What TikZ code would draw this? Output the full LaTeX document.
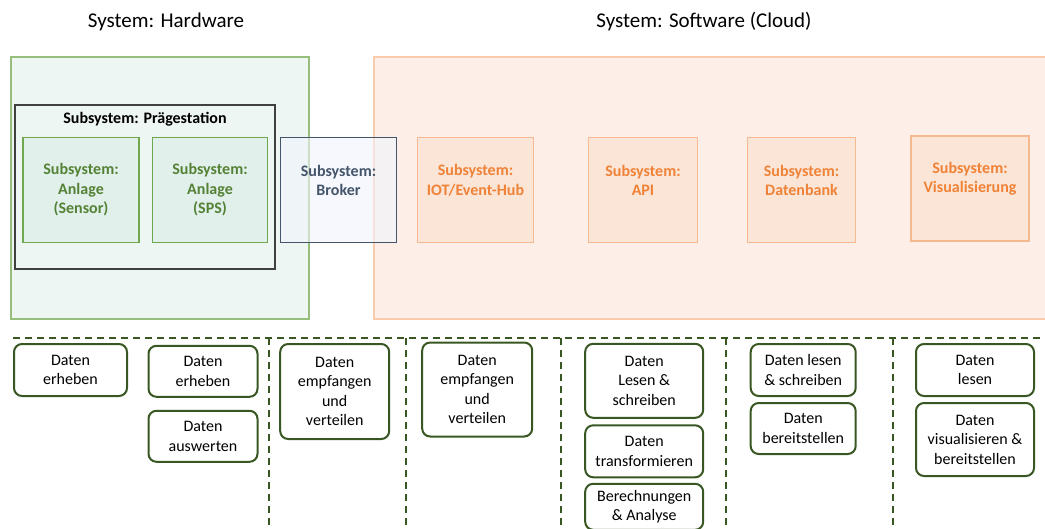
\documentclass[tikz,border=0pt]{standalone}
\usepackage{fontspec}
\setmainfont{Carlito}
\usetikzlibrary{positioning,calc}

\definecolor{hwfill}{RGB}{238,246,243}
\definecolor{hwline}{RGB}{150,190,125}
\definecolor{anlfill}{RGB}{226,240,236}
\definecolor{anlline}{RGB}{112,168,80}
\definecolor{anltext}{RGB}{84,130,53}
\definecolor{swfill}{RGB}{253,239,231}
\definecolor{swline}{RGB}{248,203,173}
\definecolor{cldfill}{RGB}{251,229,214}
\definecolor{cldline}{RGB}{245,185,145}
\definecolor{cldtext}{RGB}{240,130,55}
\definecolor{brkfill}{RGB}{240,244,252}
\definecolor{brkline}{RGB}{68,84,106}
\definecolor{taskline}{RGB}{56,87,35}

\newcommand{\sysfont}{\fontsize{21}{25}\selectfont}
\newcommand{\tskfont}{\fontsize{16}{19.5}\selectfont}

\tikzstyle{title} = [anchor=base, inner sep=0pt, font=\sysfont]
\tikzstyle{system} = [draw, line width=1.5pt, inner sep=0pt]
\tikzstyle{subsys} = [draw, line width=1.5pt, inner sep=0pt, minimum height=105pt]
\tikzstyle{subtext} = [align=center, inner sep=0pt, font=\tskfont\bfseries]
\tikzstyle{task} = [draw=taskline, line width=2pt, rounded corners=8pt, fill=white,
                    align=center, inner sep=0pt, font=\tskfont]
\tikzstyle{lane} = [draw=taskline, line width=2pt, dash pattern=on 7pt off 5pt]

\begin{document}
\begin{tikzpicture}[x=1pt, y=-1pt]
 \useasboundingbox (0,0) rectangle (1045,528);

 \node[title] (hwtitle) at (166,27) {System: Hardware};
 \node[title] (swtitle) at (704,27) {System: Software (Cloud)};

 % Systeme
 \node[system, draw=hwline, fill=hwfill, minimum width=298pt, minimum height=262pt] (hw) at (160,188) {};
 \node[system, draw=swline, fill=swfill, minimum width=690pt, minimum height=262pt, anchor=west] (sw) at (373,188) {};

 % Hardware
 \node[system, draw=black!75, minimum width=260pt, minimum height=164pt] (praege) at (145,187) {};
 \node[subtext, text=black] (praegetxt) at (145,119) {Subsystem: Prägestation};
 \node[subsys, draw=anlline, fill=anlfill, minimum width=116pt] (sensor) at (81,190) {};
 \node[subtext, text=anltext] at (sensor) {Subsystem:\\Anlage\\(Sensor)};
 \node[subsys, draw=anlline, fill=anlfill, minimum width=115pt] (sps) at (210,190) {};
 \node[subtext, text=anltext] at (sps) {Subsystem:\\Anlage\\(SPS)};

 % Cloud
 \node[subsys, draw=cldline, fill=cldfill, minimum width=116pt] (iot) at (475.5,190) {};
 \node[subtext, text=cldtext] (iottxt) at ($(iot)+(0,-9.75)$) {Subsystem:\\IOT/Event-Hub};
 \node[subsys, draw=cldline, fill=cldfill, minimum width=109pt] (api) at (643,190) {};
 \node[subtext, text=cldtext] (apitxt) at ($(api)+(0,-9.75)$) {Subsystem:\\API};
 \node[subsys, draw=cldline, fill=cldfill, minimum width=108pt] (db) at (801.5,190) {};
 \node[subtext, text=cldtext] (dbtxt) at ($(db)+(0,-9.75)$) {Subsystem:\\Datenbank};
 \node[subsys, draw=cldline, fill=cldfill, minimum width=118pt] (vis) at (970,188.5) {};
 \node[subtext, text=cldtext] (vistxt) at ($(vis)+(0,-9.75)$) {Subsystem:\\Visualisierung};

 % Broker liegt zwischen beiden Systemen
 \node[subsys, draw=brkline, fill=brkfill, fill opacity=0.6, minimum width=116pt] (broker) at (338.5,190) {};
 \node[subtext, text=brkline] (brokertxt) at ($(broker)+(0,-9.75)$) {Subsystem:\\Broker};

 % Aufgaben
 \coordinate (l0) at (13,338);
 \coordinate (l6) at (1050,338);
 \draw[lane] (l0) -- (l6);
 \foreach \x/\n in {269/1, 406/2, 561/3, 726/4, 893/5} {
  \coordinate (t\n) at (\x,338);
  \coordinate (b\n) at (\x,535);
  \draw[lane] (t\n) -- (b\n);
 }

 \node[task, minimum width=113pt, minimum height=52pt] (erheben1) at (70.5,370) {Daten\\erheben};
 \node[task, minimum width=109pt, minimum height=51pt] (erheben2) at (203,371.3) {Daten\\erheben};
 \node[task, minimum width=109pt, minimum height=51pt, below=12pt of erheben2] (auswerten) {Daten\\auswerten};
 \node[task, minimum width=109pt, minimum height=95pt] (verteilen1) at (334.7,391.5) {Daten\\empfangen\\und\\verteilen};
 \node[task, minimum width=110pt, minimum height=94pt] (verteilen2) at (477.2,389.5) {Daten\\empfangen\\und\\verteilen};
 \node[task, minimum width=118pt, minimum height=74pt] (lesen1) at (644.2,380.8) {Daten\\Lesen \&\\schreiben};
 \node[task, minimum width=118pt, minimum height=52pt, below=5.5pt of lesen1] (transform) {Daten\\transformieren};
 \node[task, minimum width=118pt, minimum height=46pt, below=4.5pt of transform] (analyse) {Berechnungen\\\& Analyse};
 \node[task, minimum width=105pt, minimum height=52pt] (lesen2) at (803.2,370) {Daten lesen\\\& schreiben};
 \node[task, minimum width=105pt, minimum height=51pt, below=5pt of lesen2] (bereit) {Daten\\bereitstellen};
 \node[task, minimum width=118pt, minimum height=52pt] (lesen3) at (975,370) {Daten\\lesen};
 \node[task, minimum width=118pt, minimum height=73pt, below=5pt of lesen3] (visual) {Daten\\visualisieren \&\\bereitstellen};
\end{tikzpicture}
\end{document}
